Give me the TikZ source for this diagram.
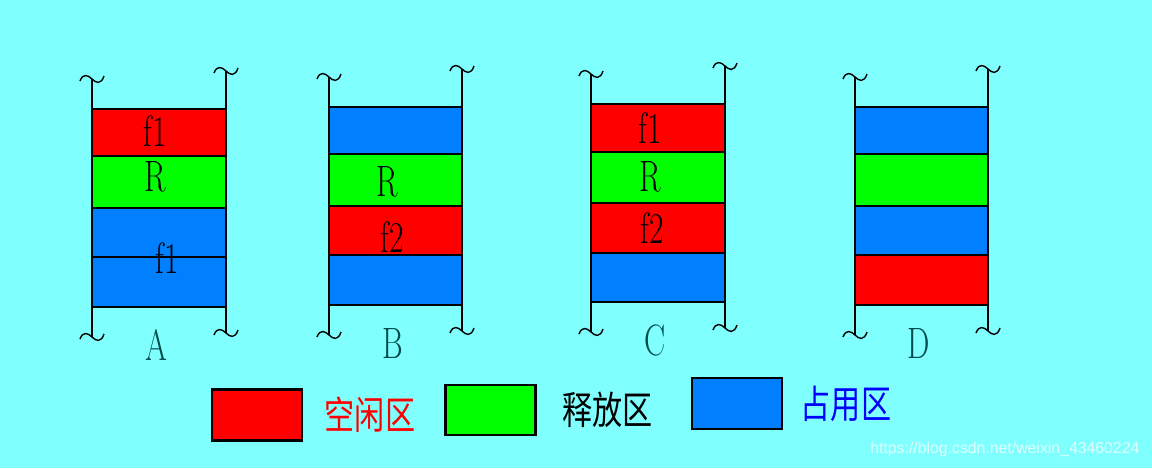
\documentclass[tikz,border=0pt]{standalone}
\usepackage{fontspec}
\usepackage{graphicx}
\newfontfamily\cjk{Noto Sans CJK SC}
\setsansfont{Liberation Sans}
\usetikzlibrary{positioning}

\definecolor{bgcyan}{HTML}{80FFFF}
\definecolor{freered}{HTML}{FF0000}
\definecolor{relgreen}{HTML}{00FF00}
\definecolor{usedblue}{HTML}{0080FF}
\definecolor{txtblue}{HTML}{0000FF}
\definecolor{labteal}{HTML}{004C4C}

\newcommand{\slim}[1]{\scalebox{0.72}[1]{#1}}
\newcommand{\hanzi}[1]{\scalebox{0.78}[1]{\cjk #1}}
\newcommand{\squiggle}[2]{\draw[squig,shift={(#1,#2)}] (-12,2) .. controls (-9,-6) and (-4,-4) .. (0,0) .. controls (4,4) and (9,6) .. (12,-3);}

\tikzset{
  seg/.style={black,line width=1.2pt},
  rail/.style={black,line width=1.1pt},
  squig/.style={black,line width=0.8pt},
  tag/.style={inner sep=0pt,font=\fontsize{25}{25}\selectfont},
  key/.style={draw=black,line width=1.6pt,minimum width=1.8cm,minimum height=1.02cm,inner sep=0pt},
  keytext/.style={inner sep=0pt,anchor=west,font=\fontsize{22}{22}\selectfont},
}

\begin{document}
\begin{tikzpicture}[x=0.02cm,y=-0.02cm]
\fill[bgcyan] (0,0) rectangle (1152,468);

% memory columns
\foreach \xl/\xr/\ya/\yb/\yc/\yd/\ye/\ca/\cb/\cc/\cd/\lab in {
  92/226/109/156/208/257/307/freered/relgreen/usedblue/usedblue/A,
  329/462/107/154/206/255/305/usedblue/relgreen/freered/usedblue/B,
  591/725/104/152/203/253/302/freered/relgreen/freered/usedblue/C,
  855/988/107/154/206/255/305/usedblue/relgreen/usedblue/freered/D}
{
  \fill[\ca] (\xl,\ya) rectangle (\xr,\yb);
  \fill[\cb] (\xl,\yb) rectangle (\xr,\yc);
  \fill[\cc] (\xl,\yc) rectangle (\xr,\yd);
  \fill[\cd] (\xl,\yd) rectangle (\xr,\ye);
  \foreach \y in {\ya,\yb,\yc,\yd,\ye}
    \draw[seg] (\xl,\y) -- (\xr,\y);
  \draw[rail] (\xl,\ya-30) -- (\xl,\ye+30);
  \draw[rail] (\xr,\ya-38) -- (\xr,\ye+26);
  \squiggle{\xl}{\ya-30}
  \squiggle{\xr}{\ya-38}
  \squiggle{\xl}{\ye+30}
  \squiggle{\xr}{\ye+26}
  \node[tag,text=labteal] (col\lab) at ({(\xl+\xr)/2-3},\ye+38) {\slim{\lab}};
}

% labels inside the blocks
\node[tag] (fa1) at (155,131) {\slim{f1}};
\node[tag] (ra) at (155,177) {\slim{R}};
\node[tag] (fa2) at (167,258) {\slim{f1}};
\node[tag] (rb) at (387,182) {\slim{R}};
\node[tag] (fb) at (392,237) {\slim{f2}};
\node[tag] (fc1) at (650,128) {\slim{f1}};
\node[tag] (rc) at (650,177) {\slim{R}};
\node[tag] (fc2) at (652,228) {\slim{f2}};

% legend
\node[key,fill=freered] (kfree) at (257,415) {};
\node[key,fill=relgreen,minimum height=1cm] (krel) at (490.5,410) {};
\node[key,fill=usedblue] (kused) at (737,403.5) {};
\node[keytext,text=freered,right=0.42cm of kfree] (tfree) {\hanzi{空闲区}};
\node[keytext,text=black,right=0.5cm of krel] (trel) {\hanzi{释放区}};
\node[keytext,text=txtblue,right=0.34cm of kused] (tused) {\hanzi{占用区}};

\node[inner sep=0pt,anchor=west,text=white,opacity=0.75,font=\sffamily\fontsize{9}{9}\selectfont] (mark) at (870,449) {https://blog.csdn.net/weixin\_43460224};
\end{tikzpicture}
\end{document}
